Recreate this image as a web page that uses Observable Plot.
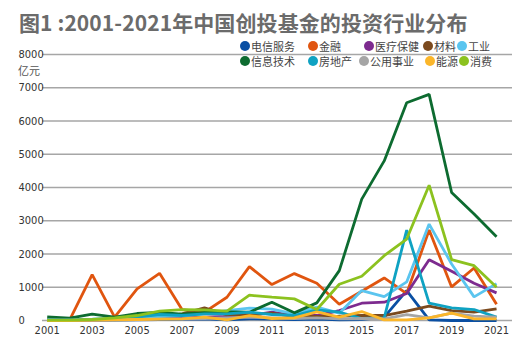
<!DOCTYPE html>
<html>
<head>
<meta charset="utf-8">
<script src="https://cdn.jsdelivr.net/npm/d3@7"></script>
<script src="https://cdn.jsdelivr.net/npm/@observablehq/plot@0.6"></script>
<style>
  html, body { margin: 0; padding: 0; background: #fff; }
  #wrap { position: relative; width: 525px; height: 353px; overflow: hidden; }
  #title { box-sizing: border-box; height: 35px; padding-top: 12px; padding-left: 19px;
    font-family: "Noto Sans CJK SC", sans-serif; font-weight: bold; font-size: 21px; line-height: 1;
    color: #6b6b6b; white-space: nowrap; letter-spacing: 0.1px; }
  #unit { position: absolute; left: 18px; top: 65px; font-family: "Noto Sans CJK SC", sans-serif;
    font-size: 11px; line-height: 1; color: #555; }
  .lg { position: absolute; font-family: "Noto Sans CJK SC", sans-serif; font-size: 11px; line-height: 1;
    color: #444; white-space: nowrap; }
  .lg i { position: absolute; width: 10px; height: 10px; border-radius: 50%; }
</style>
</head>
<body>
<div id="wrap">
  <div id="title">图1 :2001-2021年中国创投基金的投资行业分布</div>
  <div id="chart"></div>
  <div id="unit">亿元</div>
  <div id="legend"></div>
</div>
<script>
const years = [2001,2002,2003,2004,2005,2006,2007,2008,2009,2010,2011,2012,2013,2014,2015,2016,2017,2018,2019,2020,2021];
const seriesNames = ["电信服务","金融","医疗保健","材料","工业","信息技术","房地产","公用事业","能源","消费"];
const seriesColors = ["#0a4fa3","#e0550f","#7d2b8f","#7b4a1e","#5bc5ef","#0d6b30","#0fa2c2","#a5a5a5","#fbb62a","#8cc21f"];

const telecom     = [5,5,10,10,20,30,40,50,20,50,40,30,40,20,30,100,900,20,0,0,0];
const finance     = [30,20,1380,100,950,1420,330,250,700,1620,1080,1410,1120,490,880,1280,810,2720,1010,1580,490];
const healthcare  = [10,10,20,30,40,60,80,100,120,150,250,150,150,300,520,550,810,1830,1480,1120,830];
const materials   = [20,20,30,40,60,100,200,380,170,170,220,120,120,130,150,150,280,430,300,250,350];
const industrial  = [30,30,40,60,80,120,150,200,300,370,340,200,400,220,900,720,1160,2900,1700,710,1110];
const infotech    = [110,70,190,100,210,240,190,240,260,250,550,230,530,1500,3650,4800,6550,6800,3850,3200,2520];
const realestate  = [20,20,30,50,100,180,150,200,200,250,180,150,320,250,60,80,2720,520,380,330,100];
const utilities   = [10,10,10,20,30,40,50,60,80,100,80,60,80,50,60,50,180,80,220,130,100];
const energy      = [0,0,10,20,30,40,50,100,20,150,60,80,260,100,270,20,20,80,220,50,50];
const consumer    = [10,10,30,80,150,280,330,320,280,760,700,650,330,1090,1330,1950,2450,4070,1830,1650,1000];

const yTicks = [0,1000,2000,3000,4000,5000,6000,7000,8000];
const xTicks = [2001,2003,2005,2007,2009,2011,2013,2015,2017,2019,2021];

const seriesValues = [telecom, finance, healthcare, materials, industrial, infotech, realestate, utilities, energy, consumer];
const data = [];
seriesNames.forEach((name, i) => {
  years.forEach((yr, j) => data.push({series: name, year: yr, value: seriesValues[i][j]}));
});

const numFont = "'Liberation Sans Narrow', 'DejaVu Sans Condensed', 'Arial Narrow', sans-serif";

const chart = Plot.plot({
  width: 525,
  height: 318,
  marginTop: 19,
  marginBottom: 33,
  marginLeft: 42,
  marginRight: 13,
  style: {fontFamily: numFont, fontSize: "11px", color: "#333", background: "transparent"},
  x: {domain: [2000.79, 2021.71]},
  y: {domain: [0, 8000]},
  color: {domain: seriesNames, range: seriesColors},
  marks: [
    Plot.ruleY(yTicks, {stroke: "#a6a6a6", strokeWidth: 1.5}),
    Plot.axisY({ticks: yTicks, tickFormat: d => String(d), tickSize: 0, tickPadding: 0, textAnchor: "start", dx: -24, label: null, fill: "#333"}),
    Plot.axisX({ticks: xTicks, tickFormat: d => String(d), tickSize: 0, tickPadding: 6, label: null, fill: "#333"}),
    Plot.line(data, {x: "year", y: "value", z: "series", stroke: "series", strokeWidth: 2.8, strokeLinejoin: "miter", strokeLinecap: "butt"})
  ]
});
document.getElementById("chart").appendChild(chart);

// Legend (two rows, overlapping the top of the plot like the original)
const legendRows = [
  [0, 245], [1, 313], [2, 369], [3, 428], [4, 462],
  [5, 245], [6, 313], [7, 364], [8, 430], [9, 464]
];
const legend = document.getElementById("legend");
legendRows.forEach(([idx, cx], k) => {
  const rowY = k < 5 ? 46 : 61;
  const item = document.createElement("div");
  item.className = "lg";
  item.style.left = (cx + 6) + "px";
  item.style.top = (rowY - 5.5) + "px";
  item.textContent = seriesNames[idx];
  const dot = document.createElement("i");
  dot.style.background = seriesColors[idx];
  dot.style.left = "-11px";
  dot.style.top = "0.5px";
  item.appendChild(dot);
  legend.appendChild(item);
});
</script>
</body>
</html>
